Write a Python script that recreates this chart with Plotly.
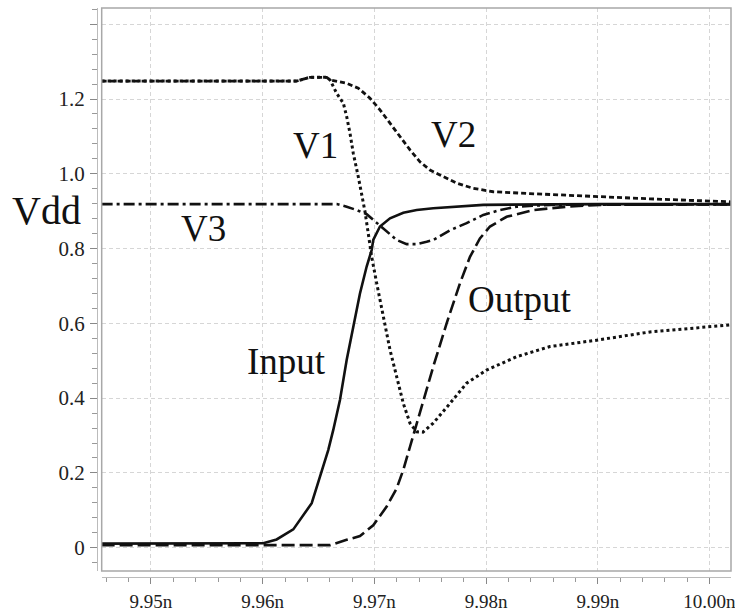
import plotly.graph_objects as go

# Time axis in ns, node voltages in V
v2_t = [9.94558, 9.96304, 9.96423, 9.96573, 9.96603, 9.96752, 9.96856, 9.96961, 9.97050,
        9.97140, 9.97229, 9.97319, 9.97408, 9.97498, 9.97587, 9.97737, 9.97885, 9.98065,
        9.98393, 9.98990, 9.99467, 10.00192]
v2_v = [1.248, 1.248, 1.258, 1.258, 1.251, 1.242, 1.229, 1.202, 1.171,
        1.135, 1.099, 1.064, 1.032, 1.010, 0.997, 0.975, 0.961, 0.952,
        0.947, 0.939, 0.933, 0.925]

v1_t = [9.94558, 9.96304, 9.96423, 9.96573, 9.96603, 9.96663, 9.96722, 9.96752, 9.96782,
        9.96811, 9.96856, 9.96886, 9.96916, 9.96945, 9.96976, 9.97021, 9.97080, 9.97140,
        9.97200, 9.97259, 9.97319, 9.97379, 9.97435, 9.97527, 9.97677, 9.97826, 9.98005,
        9.98274, 9.98572, 9.98990, 9.99467, 10.00192]
v1_v = [1.248, 1.248, 1.258, 1.258, 1.251, 1.215, 1.189, 1.153, 1.108,
        1.055, 0.992, 0.948, 0.899, 0.841, 0.778, 0.707, 0.618, 0.529,
        0.457, 0.386, 0.333, 0.310, 0.309, 0.333, 0.386, 0.440, 0.475,
        0.511, 0.538, 0.555, 0.577, 0.596]

v3_t = [9.94558, 9.96663, 9.96752, 9.96842, 9.96931, 9.97021, 9.97110, 9.97200, 9.97289,
        9.97379, 9.97468, 9.97527, 9.97677, 9.97826, 9.97975, 9.98124, 9.98274, 9.98572,
        10.00192]
v3_v = [0.919, 0.919, 0.912, 0.903, 0.892, 0.868, 0.845, 0.823, 0.812,
        0.812, 0.818, 0.823, 0.849, 0.868, 0.890, 0.903, 0.912, 0.917,
        0.918]

in_t = [9.94558, 9.96005, 9.96125, 9.96274, 9.96439, 9.96513, 9.96587, 9.96632, 9.96692,
        9.96752, 9.96811, 9.96871, 9.96931, 9.96976, 9.96990, 9.97050, 9.97140, 9.97259,
        9.97379, 9.97527, 9.97975, 9.99020, 10.00192]
in_v = [0.011, 0.012, 0.022, 0.049, 0.119, 0.190, 0.261, 0.315, 0.395,
        0.502, 0.591, 0.680, 0.752, 0.796, 0.823, 0.859, 0.881, 0.896,
        0.903, 0.908, 0.917, 0.919, 0.919]

out_t = [9.94558, 9.96603, 9.96752, 9.96871, 9.96990, 9.97110, 9.97200, 9.97259, 9.97319,
         9.97379, 9.97438, 9.97527, 9.97647, 9.97766, 9.97856, 9.97945, 9.98035, 9.98184,
         9.98423, 9.98721, 9.99020, 10.00192]
out_v = [0.007, 0.007, 0.021, 0.031, 0.060, 0.110, 0.159, 0.208, 0.270,
         0.333, 0.395, 0.484, 0.600, 0.707, 0.778, 0.827, 0.859, 0.885,
         0.903, 0.912, 0.917, 0.918]

x_ticks = [9.95, 9.96, 9.97, 9.98, 9.99, 10.00]
x_tick_text = ["9.95n", "9.96n", "9.97n", "9.98n", "9.99n", "10.00n"]
y_ticks = [0, 0.2, 0.4, 0.6, 0.8, 1.0, 1.2, 1.4]
y_tick_text = ["0", "0.2", "0.4", "0.6", "0.8", "1.0", "1.2", ""]

SERIF = "Liberation Serif, Times New Roman, serif"
INK = "#111111"

fig = go.Figure()

def wave(t, v, dash, width=2.6):
    fig.add_trace(go.Scatter(x=t, y=v, mode="lines",
                             line=dict(color=INK, width=width, dash=dash),
                             hoverinfo="skip", showlegend=False))

wave(v2_t, v2_v, "5px,3px", 2.8)
wave(v1_t, v1_v, "dot", 3)
wave(v3_t, v3_v, "11px,4px,3px,4px", 2.6)
wave(out_t, out_v, "13px,5px", 2.6)
wave(in_t, in_v, "solid", 2.6)

# start-point markers on the waveforms
def start_marker(t, v, size, lw):
    fig.add_trace(go.Scatter(x=[t[0]], y=[v[0]], mode="markers", cliponaxis=False,
                             hoverinfo="skip", showlegend=False,
                             marker=dict(symbol="line-ns", size=size, color=INK,
                                         line=dict(color=INK, width=lw))))

start_marker(v2_t, v2_v, 12, 5)
start_marker(v3_t, v3_v, 8, 4)
start_marker(in_t, in_v, 15, 4)

labels = [
    ("V1", 9.96477, 1.077),
    ("V2", 9.97704, 1.106),
    ("V3", 9.95474, 0.855),
    ("Input", 9.96215, 0.497),
    ("Output", 9.98304, 0.6625),
]
for text, lx, ly in labels:
    fig.add_annotation(x=lx, y=ly, xref="x", yref="y", text=text, showarrow=False,
                       font=dict(family=SERIF, size=37, color=INK),
                       xanchor="center", yanchor="middle")

fig.add_annotation(x=-0.0804, y=(577 - 210) / 569, xref="paper", yref="paper",
                   text="Vdd", showarrow=False,
                   font=dict(family=SERIF, size=40, color=INK),
                   xanchor="center", yanchor="middle")

# plot frame
fig.add_shape(type="rect", xref="x domain", yref="y domain", x0=0, x1=1, y0=0, y1=1,
              line=dict(color="#a8a8a8", width=1.5), layer="above")

grid = dict(showgrid=True, gridcolor="#d6d6d6", gridwidth=1, griddash="4px,3px")

fig.update_layout(
    width=735, height=616,
    margin=dict(l=97, r=4, t=8, b=39, autoexpand=False),
    paper_bgcolor="white", plot_bgcolor="white",
    font=dict(family=SERIF),
    xaxis=dict(range=[9.945586, 10.00193], domain=[0.0074, 1],
               anchor="free", position=0, automargin=False,
               tickvals=x_ticks, ticktext=x_tick_text,
               ticks="outside", ticklen=6, tickcolor="#888", tickwidth=1,
               showline=True, linecolor="#bbbbbb", linewidth=1,
               minor=dict(dtick=0.002, tick0=9.95, ticks="outside", ticklen=4,
                          tickcolor="#999", showgrid=False),
               tickfont=dict(family=SERIF, size=19, color="#222222"),
               ticklabeloverflow="allow",
               ticklabelstandoff=1, zeroline=False, **grid),
    yaxis=dict(range=[-0.0623, 1.4434], domain=[0.01054, 1],
               anchor="free", position=0, automargin=False,
               tickvals=y_ticks, ticktext=y_tick_text,
               ticks="outside", ticklen=7, tickcolor="#888", tickwidth=1,
               showline=True, linecolor="#bbbbbb", linewidth=1,
               minor=dict(dtick=0.04, tick0=0, ticks="outside", ticklen=5,
                          tickcolor="#999", showgrid=False),
               tickfont=dict(family=SERIF, size=21, color="#222222"),
               ticklabeloverflow="allow",
               ticklabelstandoff=1, zeroline=False, **grid),
)

fig.write_html("out.html")
